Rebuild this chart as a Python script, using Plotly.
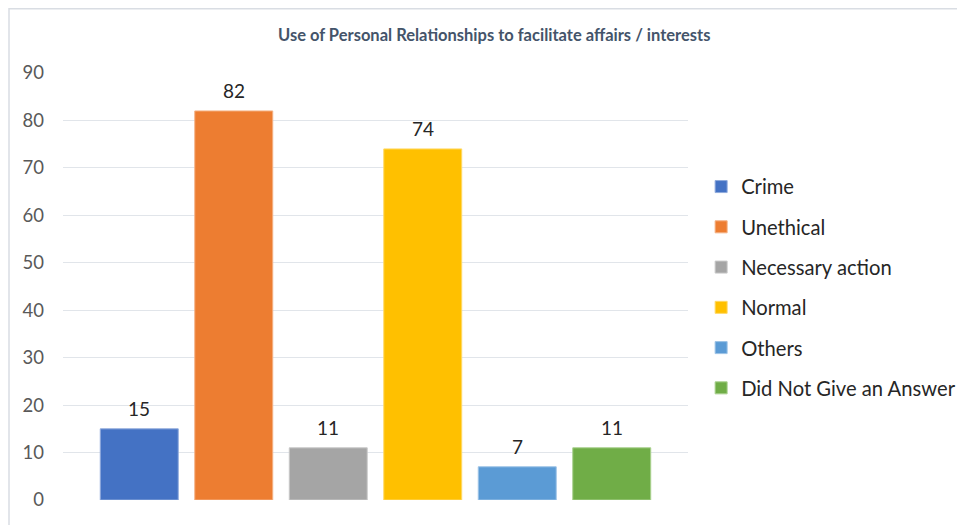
import plotly.graph_objects as go

categories = ["Crime", "Unethical", "Necessary action", "Normal", "Others", "Did Not Give an Answer"]
values = [15, 82, 11, 74, 7, 11]
colors = ["#4472C4", "#ED7D31", "#A5A5A5", "#FFC000", "#5B9BD5", "#70AD47"]
line_colors = ["#8FAADC", "#F4B183", "#C9C9C9", "#FFD966", "#9DC3E6", "#A9D18E"]
y_ticks = [0, 10, 20, 30, 40, 50, 60, 70, 80, 90]
title_text = "Use of Personal Relationships to facilitate affairs / interests"

FONT = "Lato"

fig = go.Figure()
for i, (name, val) in enumerate(zip(categories, values)):
    fig.add_trace(go.Bar(
        x=[name], y=[val], name=name,
        marker=dict(color=colors[i], line=dict(color=line_colors[i], width=1)),
        legendgroup=name,
        hoverinfo="skip",
    ))
    fig.add_annotation(
        x=name, y=val, text=str(val), showarrow=False,
        yanchor="bottom", yshift=7,
        font=dict(family=FONT, size=19, color="#262626"),
    )

fig.update_layout(
    width=965, height=525,
    margin=dict(l=55, r=285, t=65, b=33),
    paper_bgcolor="white", plot_bgcolor="white",
    barmode="overlay",
    bargap=0.175,
    showlegend=True,
    legend=dict(
        x=1.021, xanchor="left", xref="paper",
        y=0.78, yanchor="top",
        font=dict(family=FONT, size=20.2, color="#262626"),
        tracegroupgap=11,
        itemwidth=30,
        bgcolor="rgba(0,0,0,0)",
    ),
    title=dict(
        text="<b>" + title_text + "</b>",
        x=0.69, xref="paper", xanchor="center",
        y=1 - 27 / 525, yref="container", yanchor="middle",
        font=dict(family=FONT, size=16.5, color="#44546A"),
    ),
    xaxis=dict(
        showticklabels=False, showgrid=False, zeroline=False, showline=False,
        range=[-0.807, 5.807],
        categoryorder="array", categoryarray=categories,
    ),
    yaxis=dict(
        range=[0, 90], tickvals=y_ticks,
        showgrid=True, gridcolor="#E1E5EA", gridwidth=1.3,
        zeroline=False, showline=False,
        tickfont=dict(family=FONT, size=18.5, color="#595959"),
        ticklabelstandoff=18,
    ),
    shapes=[dict(
        type="rect", xref="paper", yref="paper",
        x0=(1 - 55) / 625, x1=2.0, y0=-1.0, y1=(492 - 0.75) / 427,
        line=dict(color="#D9DDE3", width=1.5), fillcolor="rgba(0,0,0,0)",
        layer="below",
    )],
)

fig.write_html("out.html")
